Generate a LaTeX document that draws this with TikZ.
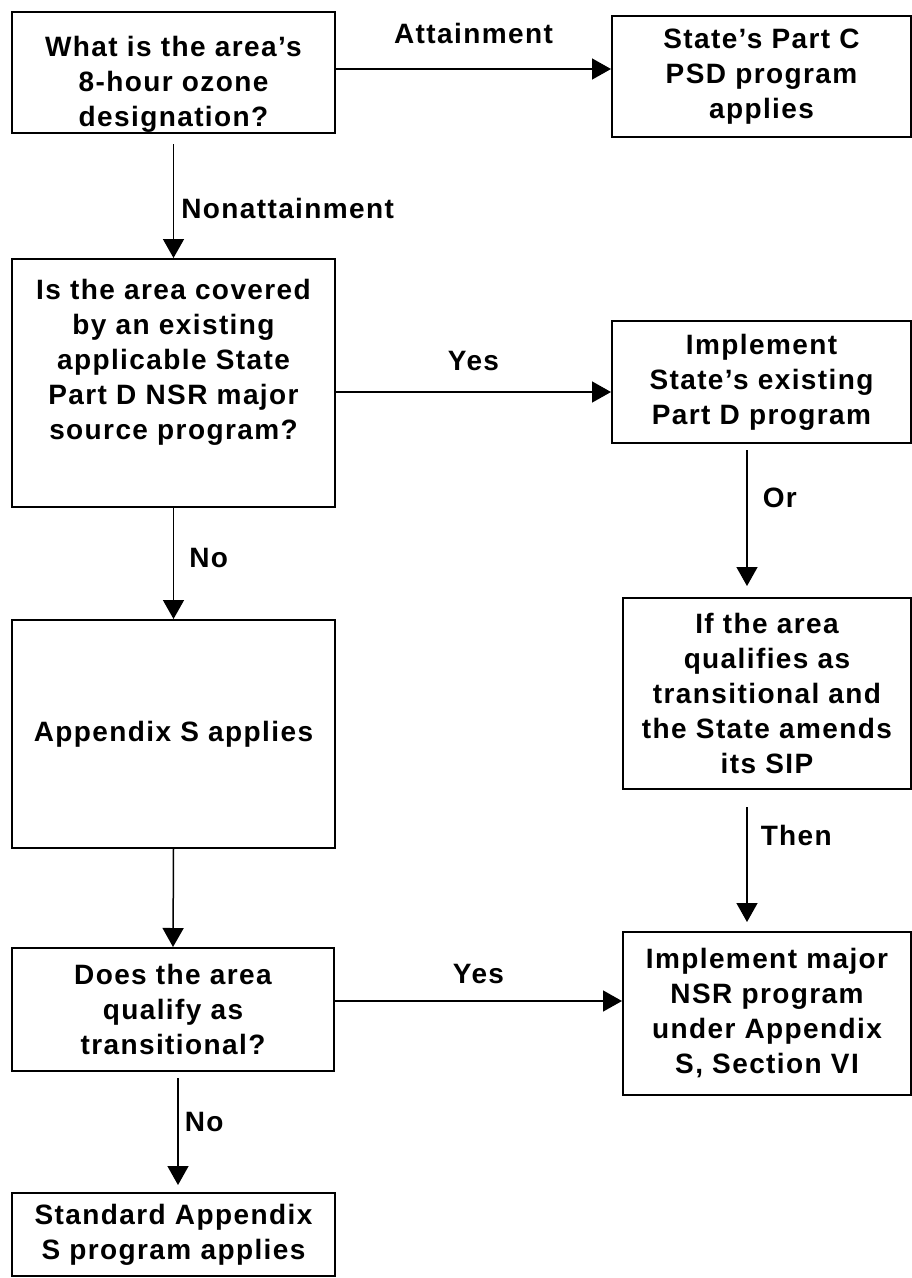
\documentclass[tikz,border=0pt]{standalone}
\usepackage{fontspec}
\setmainfont{Liberation Sans}[LetterSpace=5]
\usetikzlibrary{arrows.meta}

\begin{document}
\begin{tikzpicture}[x=1pt, y=-1pt,
    box/.style={draw, line width=2pt, align=center, inner sep=0pt, font=\bfseries\fontsize{28}{35}\selectfont},
    lbl/.style={font=\bfseries\fontsize{28}{35}\selectfont, inner sep=0pt},
    arr/.style={line width=1.5pt, -{Triangle[length=19pt, width=21pt]}}]
    \useasboundingbox (0,0) rectangle (912,1278);
    % left column
    \node[box, minimum width=323pt, minimum height=121pt] (q1) at (173.5,72.5) {What is the area’s\\8-hour ozone\\designation?\\[-53pt]};
    \node[box, minimum width=323pt, minimum height=248pt] (q2) at (173.5,383) {Is the area covered\\by an existing\\applicable State\\Part D NSR major\\source program?\\[12pt]};
    \node[box, minimum width=323pt, minimum height=228pt] (a1) at (173.5,734) {Appendix S applies};
    \node[box, minimum width=322pt, minimum height=123pt] (q3) at (173,1009.5) {Does the area\\qualify as\\transitional?};
    \node[box, minimum width=323pt, minimum height=83pt] (s1) at (173.5,1234.5) {Standard Appendix\\S program applies};
    % right column
    \node[box, minimum width=299pt, minimum height=121pt] (r1) at (761.5,76.5) {State’s Part C\\PSD program\\applies};
    \node[box, minimum width=299pt, minimum height=122pt] (r2) at (761.5,382) {Implement\\State’s existing\\Part D program};
    \node[box, minimum width=288pt, minimum height=191pt] (r3) at (767,693.5) {If the area\\qualifies as\\transitional and\\the State amends\\its SIP};
    \node[box, minimum width=288pt, minimum height=163pt] (r4) at (767,1013.5) {Implement major\\NSR program\\under Appendix\\S, Section VI};

    \draw[arr] ([yshift=3.5pt]q1.east) -- node[lbl, above=24pt] {Attainment} ([yshift=3.5pt]q1.east -| r1.west);
    \draw[arr, shorten <=10pt] (q1.south) -- node[lbl, right=7pt, pos=0.6] {Nonattainment} (q2.north);
    \draw[arr] ([yshift=-9pt]q2.east) -- node[lbl, above=20pt] {Yes} ([yshift=-9pt]q2.east -| r2.west);
    \draw[arr] (q2.south) -- node[lbl, right=15pt, pos=0.45] {No} (a1.north);
    \draw[arr] (a1.south) -- (q3.north);
    \draw[arr] ([yshift=8.5pt]q3.east) -- node[lbl, above=16pt] {Yes} ([yshift=8.5pt]q3.east -| r4.west);
    \draw[arr, shorten <=6pt, shorten >=7pt] ([xshift=5pt]q3.south) -- node[lbl, right=6pt, pos=0.42] {No} ([xshift=4.5pt]s1.north);
    \draw[arr, shorten <=6pt, shorten >=11pt] ([xshift=-14.5pt]r2.south) -- node[lbl, right=15pt, pos=0.35] {Or} ([xshift=-20pt]r3.north);
    \draw[arr, shorten <=17pt, shorten >=9pt] ([xshift=-20pt]r3.south) -- node[lbl, right=13pt, pos=0.32] {Then} ([xshift=-20pt]r4.north);
\end{tikzpicture}
\end{document}
